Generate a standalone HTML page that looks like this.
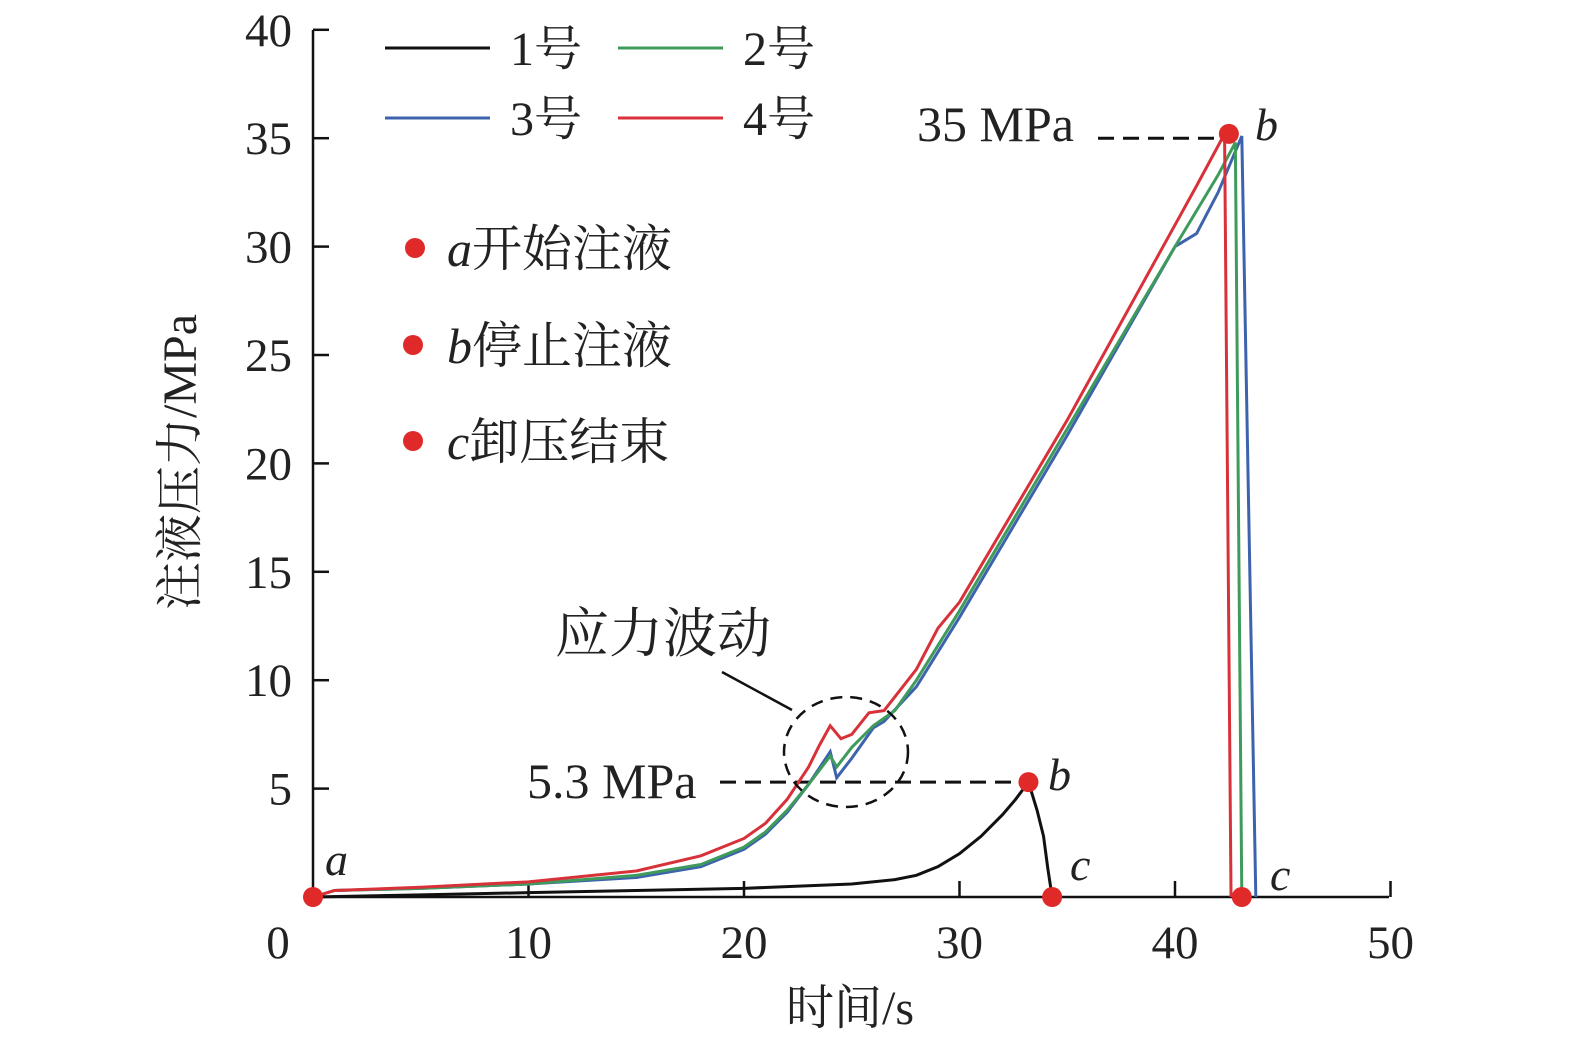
<!DOCTYPE html>
<html><head><meta charset="utf-8">
<style>
body{margin:0;background:#fff;}
svg{display:block;}
text{font-family:"Liberation Serif","Noto Serif CJK SC",serif;fill:#222;}
</style></head>
<body>
<svg id="chart" width="1575" height="1047" viewBox="0 0 1575 1047" xmlns="http://www.w3.org/2000/svg">
<g id="axes"></g>
<g id="plot"></g>
<g id="legend"></g>
</svg>
<script>
const xTicks=[0,10,20,30,40,50];
const yTicks=[5,10,15,20,25,30,35,40];
const s1t=[0,5,10,15,20,25,27,28,29,30,31,32,32.6,33.2,33.6,33.9,34.1,34.3];
const s1v=[0,0.1,0.2,0.3,0.4,0.6,0.8,1.0,1.4,2.0,2.8,3.8,4.5,5.3,4.0,2.8,1.3,0];
const s2t=[0,1,5,10,15,18,20,21,22,23,24,24.3,25,26,27,28,30,35,40,42,42.8,43.1];
const s2v=[0,0.3,0.4,0.6,1.0,1.5,2.3,3.0,4.0,5.2,6.5,6.0,6.9,7.9,8.6,10.0,13.2,21.6,30.0,33.3,34.8,0];
const s3t=[0,1,5,10,15,18,20,21,22,23,24,24.3,25,26,26.5,28,30,35,40,41,42,43.1,43.75];
const s3v=[0,0.3,0.4,0.6,0.9,1.4,2.2,2.9,3.9,5.2,6.7,5.5,6.4,7.8,8.1,9.7,12.9,21.3,30.0,30.6,32.5,35.1,0];
const s4t=[0,1,5,10,15,18,20,21,22,23,23.5,24,24.5,25,25.8,26.5,28,29,30,35,40,41,42.3,42.6];
const s4v=[0,0.3,0.45,0.7,1.2,1.9,2.7,3.4,4.5,6.0,7.0,7.9,7.3,7.5,8.5,8.6,10.5,12.4,13.6,22.0,31.0,32.8,35.2,0];
const dotsT=[0,33.2,34.3,42.5,43.1];
const dotsV=[0,5.3,0,35.2,0];
const X=t=>313+t*21.55, Y=v=>897-v*21.68;
const NS="http://www.w3.org/2000/svg";
function mk(p,tag,at,txt){const e=document.createElementNS(NS,tag);for(const k in at)e.setAttribute(k,at[k]);if(txt!==undefined)e.textContent=txt;p.appendChild(e);return e;}
const ax=document.getElementById('axes'),pl=document.getElementById('plot'),lg=document.getElementById('legend');
let e=mk(ax,'path',{d:`M313,30 V897 H1389`,stroke:'#111','stroke-width':2.5,fill:'none'});


xTicks.forEach((t,i)=>{
 if(t>0){let l=mk(ax,'line',{x1:X(t),x2:X(t),y1:897,y2:881,stroke:'#111','stroke-width':2.5});
 
 }
 let tx=mk(ax,'text',{x:t==0?278:X(t),y:958,'font-size':47,'text-anchor':'middle'},String(t));
 
 
});
yTicks.forEach(v=>{
 let l=mk(ax,'line',{x1:313,x2:329,y1:Y(v),y2:Y(v),stroke:'#111','stroke-width':2.5});
 
 
 let tx=mk(ax,'text',{x:292,y:Y(v)+16,'font-size':47,'text-anchor':'end'},String(v));
 
 
});
e=mk(ax,'text',{x:850,y:1024,'font-size':48,'text-anchor':'middle'},'时间/s');


e=mk(ax,'text',{x:0,y:0,'font-size':48,'text-anchor':'middle',transform:'translate(196,462) rotate(-90)'},'注液压力/MPa');


e=mk(pl,'line',{x1:720,x2:X(33.2),y1:Y(5.3),y2:Y(5.3),stroke:'#111','stroke-width':3,'stroke-dasharray':'16,9'});


e=mk(pl,'line',{x1:1098,x2:X(42.5),y1:Y(35),y2:Y(35),stroke:'#111','stroke-width':3,'stroke-dasharray':'16,9'});


const series=[[s1t,s1v,'#111','series-1'],[s2t,s2v,'#3f9b5c','series-2'],[s3t,s3v,'#3e63ad','series-3'],[s4t,s4v,'#d8313a','series-4']];
[series[2],series[1],series[3],series[0]].forEach(([ts,vs,c,n])=>{
 let p=mk(pl,'polyline',{points:ts.map((t,i)=>X(t)+','+Y(vs[i])).join(' '),stroke:c,'stroke-width':3,fill:'none'});
 
 
});
dotsT.forEach((t,i)=>{
 let c=mk(pl,'circle',{cx:X(t),cy:Y(dotsV[i]),r:10,fill:'#e02a2a'});
 
 
});
e=mk(pl,'ellipse',{cx:846,cy:752,rx:62,ry:55,fill:'none',stroke:'#111','stroke-width':2.5,'stroke-dasharray':'12,8'});


e=mk(pl,'line',{x1:722,y1:672,x2:792,y2:710,stroke:'#111','stroke-width':2.5});


e=mk(pl,'text',{x:663,y:652,'font-size':54,'text-anchor':'middle'},'应力波动');


const lbls=[[527,798,'5.3 MPa','label-5-3'],[917,141,'35 MPa','label-35']];
lbls.forEach(([x,y,t,n])=>{let q=mk(pl,'text',{x:x,y:y,'font-size':50},t);
 
 });
const its=[[325,875,'a'],[1048,790,'b'],[1070,880,'c'],[1255,140,'b'],[1270,890,'c']];
its.forEach(([x,y,t])=>{let q=mk(pl,'text',{x:x,y:y,'font-size':46,'font-style':'italic'},t);
 
 });
const lgItems=[[385,48,'#111','1号'],[618,48,'#3f9b5c','2号'],[385,118,'#3e63ad','3号'],[618,118,'#d8313a','4号']];
lgItems.forEach(([x,y,c,t])=>{
 let l=mk(lg,'line',{x1:x,x2:x+105,y1:y,y2:y,stroke:c,'stroke-width':3});
 
 
 let q=mk(lg,'text',{x:x+125,y:y+17,'font-size':48},t);
 
 
});
const ev=[[415,248,'a','开始注液'],[413,345,'b','停止注液'],[413,441,'c','卸压结束']];
ev.forEach(([x,y,l,t])=>{
 let c=mk(lg,'circle',{cx:x,cy:y,r:10,fill:'#e02a2a'});
 
 
 let q=mk(lg,'text',{x:447,y:y+18,'font-size':50});
 
 
 mk(q,'tspan',{'font-style':'italic'},l);mk(q,'tspan',{},t);
});
</script>
</body></html>
